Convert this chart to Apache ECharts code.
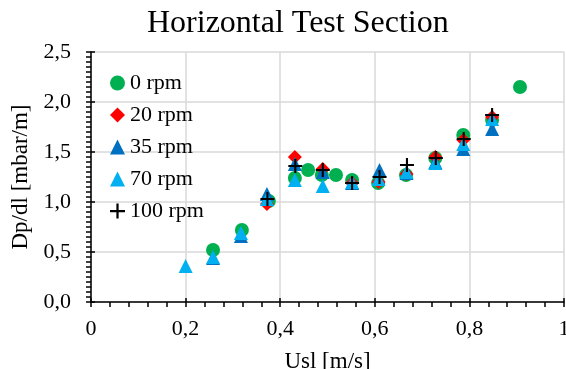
<!DOCTYPE html>
<html>
<head>
<meta charset="utf-8">
<script src="https://cdn.jsdelivr.net/npm/echarts@6/dist/echarts.min.js"></script>
<style>
  html, body { margin: 0; padding: 0; background: #fff; }
  #main { width: 566px; height: 369px; }
</style>
</head>
<body>
<div id="main"></div>
<script>
// data: [Usl, Dp/dl]
var rpm0 = [[0.258, 0.52], [0.319, 0.72], [0.376, 1.01], [0.431, 1.24], [0.459, 1.32],
  [0.488, 1.27], [0.518, 1.27], [0.552, 1.22], [0.607, 1.19], [0.666, 1.27],
  [0.728, 1.44], [0.787, 1.67], [0.848, 1.82], [0.907, 2.15]];
var rpm20 = [[0.372, 0.98], [0.431, 1.45], [0.49, 1.33], [0.552, 1.19], [0.608, 1.2],
  [0.667, 1.28], [0.728, 1.45], [0.787, 1.62], [0.848, 1.85]];
var rpm35 = [[0.258, 0.44], [0.317, 0.66], [0.372, 1.08], [0.431, 1.38], [0.49, 1.3],
  [0.552, 1.19], [0.61, 1.32], [0.667, 1.29], [0.728, 1.4], [0.787, 1.53], [0.848, 1.73]];
var rpm70 = [[0.2, 0.36], [0.258, 0.45], [0.317, 0.69], [0.372, 1.03], [0.431, 1.22],
  [0.49, 1.16], [0.552, 1.2], [0.608, 1.23], [0.667, 1.3], [0.728, 1.39], [0.787, 1.58], [0.848, 1.83]];
var rpm100 = [[0.373, 1.03], [0.432, 1.36], [0.49, 1.32], [0.552, 1.19], [0.61, 1.25],
  [0.668, 1.37], [0.729, 1.44], [0.788, 1.63], [0.848, 1.87]];

var names = ['0 rpm', '20 rpm', '35 rpm', '70 rpm', '100 rpm'];

var serif = '"Liberation Serif", "Times New Roman", serif';
var plus = 'path://M8.5,0H11.5V8.5H20V11.5H11.5V20H8.5V11.5H0V8.5H8.5Z';

var myChart = echarts.init(document.getElementById('main'));

var option = {
  backgroundColor: '#fff',
  animation: false,
  title: {
    text: 'Horizontal Test Section',
    left: 142,
    top: 3,
    textStyle: { fontFamily: serif, fontSize: 32, fontWeight: 'normal', color: '#000' }
  },
  legend: {
    orient: 'vertical',
    left: 105,
    top: 67,
    itemWidth: 15,
    itemHeight: 15,
    itemGap: 10,
    textStyle: { fontFamily: serif, fontSize: 22, color: '#000' },
    data: names
  },
  grid: { left: 91, right: 2, top: 52, bottom: 67, outerBoundsMode: 'none' },
  xAxis: [{
    type: 'value', min: 0, max: 1, interval: 0.2,
    name: 'Usl [m/s]', nameLocation: 'middle', nameGap: 48,
    nameTextStyle: { fontFamily: serif, fontSize: 23, color: '#000' },
    axisLine: { lineStyle: { color: '#000', width: 1.5 } },
    axisTick: { length: 5, lineStyle: { color: '#000', width: 1.5 } },
    minorTick: { show: true, splitNumber: 5, length: 5, lineStyle: { color: '#000', width: 1.5 } },
    axisLabel: {
      fontFamily: serif, fontSize: 22, color: '#000', margin: 16,
      formatter: function (v) { return (v === 0 || v === 1) ? String(v) : v.toFixed(1).replace('.', ','); }
    },
    splitLine: { show: true, lineStyle: { color: '#d9d9d9', width: 1.5 } }
  }, {
    type: 'value', min: 0, max: 1, interval: 0.2, position: 'bottom',
    axisLine: { show: false },
    axisTick: { inside: true, length: 4, lineStyle: { color: '#000', width: 1.5 } },
    axisLabel: { show: false },
    splitLine: { show: false }
  }],
  yAxis: [{
    type: 'value', min: 0, max: 2.5, interval: 0.5,
    name: 'Dp/dl [mbar/m]', nameLocation: 'middle', nameGap: 58,
    nameTextStyle: { fontFamily: serif, fontSize: 23, color: '#000' },
    axisLine: { show: true, lineStyle: { color: '#000', width: 1.5 } },
    axisTick: { show: true, length: 5, lineStyle: { color: '#000', width: 1.5 } },
    minorTick: { show: true, splitNumber: 10, length: 5, lineStyle: { color: '#000', width: 1.5 } },
    axisLabel: {
      fontFamily: serif, fontSize: 22, color: '#000', margin: 20,
      formatter: function (v) { return v.toFixed(1).replace('.', ','); }
    },
    splitLine: { show: true, lineStyle: { color: '#d9d9d9', width: 1.5 } }
  }, {
    type: 'value', min: 0, max: 2.5, interval: 0.5, position: 'left',
    axisLine: { show: false },
    axisTick: { show: true, inside: true, length: 4, lineStyle: { color: '#000', width: 1.5 } },
    axisLabel: { show: false },
    splitLine: { show: false }
  }],
  series: [
    { name: names[0], type: 'scatter', data: rpm0, symbol: 'circle', symbolSize: 14,
      itemStyle: { color: '#00B050', opacity: 1 } },
    { name: names[1], type: 'scatter', data: rpm20, symbol: 'diamond', symbolSize: 14,
      itemStyle: { color: '#FF0000', opacity: 1 } },
    { name: names[2], type: 'scatter', data: rpm35, symbol: 'triangle', symbolSize: 14,
      itemStyle: { color: '#0070C0', opacity: 1 } },
    { name: names[3], type: 'scatter', data: rpm70, symbol: 'triangle', symbolSize: 14,
      itemStyle: { color: '#00B0F0', opacity: 1 } },
    { name: names[4], type: 'scatter', data: rpm100, symbol: plus, symbolSize: 14,
      itemStyle: { color: '#000', opacity: 1 } }
  ]
};

myChart.setOption(option);
</script>
</body>
</html>
